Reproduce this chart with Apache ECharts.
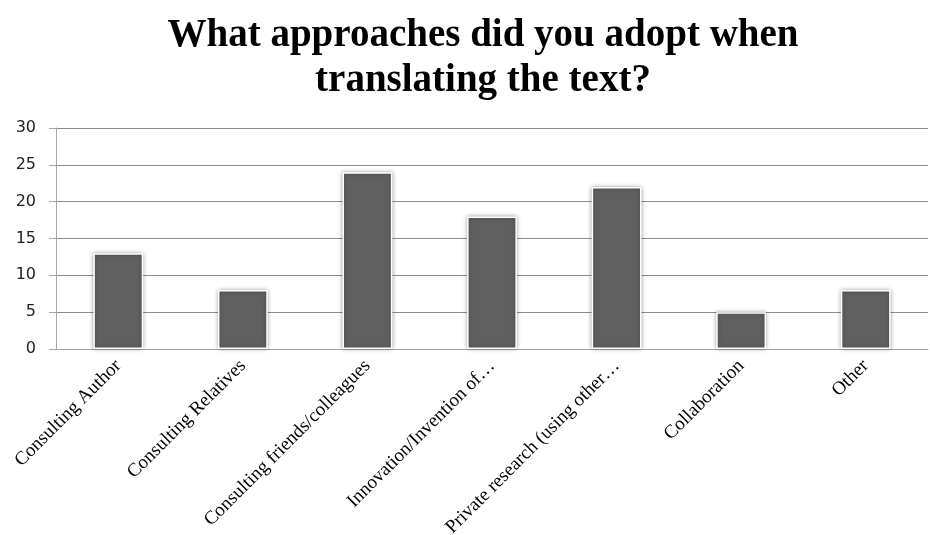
<!DOCTYPE html>
<html>
<head>
<meta charset="utf-8">
<script src="https://cdn.jsdelivr.net/npm/echarts@6/dist/echarts.min.js"></script>
<style>
  html, body { margin: 0; padding: 0; background: #fff; }
  #chart { width: 930px; height: 535px; }
</style>
</head>
<body>
<div id="chart"></div>
<script>
// Survey answers: approaches used while translating
const categories = [
  'Consulting Author',
  'Consulting Relatives',
  'Consulting friends/colleagues',
  'Innovation/Invention of\u2026',
  'Private research (using other\u2026',
  'Collaboration',
  'Other'
];
const responses = [13, 8, 24, 18, 22, 5, 8];
const yTicks = [0, 5, 10, 15, 20, 25, 30];

const serif = '"Liberation Serif", "DejaVu Serif", serif';
const sans = '"DejaVu Sans", Verdana, sans-serif';

const chart = echarts.init(document.getElementById('chart'));
chart.setOption({
  backgroundColor: '#ffffff',
  title: {
    text: 'What approaches did you adopt when\ntranslating the text?',
    left: 478,
    textAlign: 'center',
    top: 8,
    textStyle: {
      fontFamily: serif,
      fontWeight: 'bold',
      fontSize: 39,
      lineHeight: 45,
      color: '#000'
    }
  },
  grid: {
    left: 56, right: 2, top: 128, bottom: 186,
    containLabel: false,
    outerBoundsMode: 'none'
  },
  xAxis: {
    type: 'category',
    data: categories,
    axisLine: { lineStyle: { color: '#a6a6a6', width: 1 } },
    axisTick: { show: false },
    axisLabel: {
      rotate: 45,
      interval: 0,
      margin: 14,
      fontFamily: serif,
      fontSize: 19,
      color: '#000'
    }
  },
  yAxis: {
    type: 'value',
    min: yTicks[0],
    max: yTicks[yTicks.length - 1],
    interval: 5,
    axisLine: { show: true, lineStyle: { color: '#a6a6a6', width: 1 } },
    axisTick: { show: true, length: 7, lineStyle: { color: '#a6a6a6' } },
    splitLine: { lineStyle: { color: '#8c8c8c', width: 1 } },
    axisLabel: {
      margin: 20,
      fontFamily: sans,
      fontSize: 16,
      color: '#222'
    }
  },
  series: [{
    type: 'bar',
    data: responses,
    barWidth: '40%',
    itemStyle: {
      color: '#606060',
      borderColor: '#ffffff',
      borderWidth: 1.5,
      shadowBlur: 4,
      shadowColor: 'rgba(0,0,0,0.35)',
      shadowOffsetX: 0,
      shadowOffsetY: 0
    }
  }]
});
</script>
</body>
</html>
